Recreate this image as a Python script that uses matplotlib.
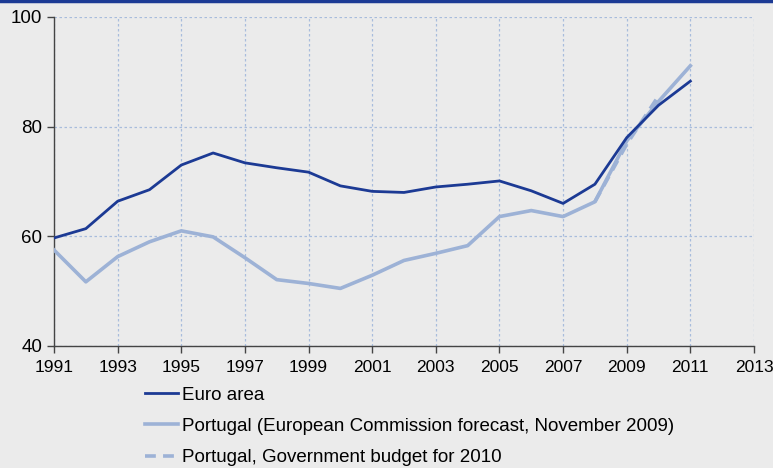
import matplotlib.pyplot as plt
from matplotlib.lines import Line2D
from matplotlib import font_manager

plt.rcParams["font.family"] = ["Liberation Sans", "DejaVu Sans"]

years = list(range(1991, 2012))
euro_area = [59.7, 61.4, 66.4, 68.5, 73.0, 75.2, 73.4, 72.5, 71.7, 69.2, 68.2,
             68.0, 69.0, 69.5, 70.1, 68.3, 66.0, 69.5, 78.0, 83.9, 88.3]
portugal_ec = [57.5, 51.7, 56.3, 59.0, 61.0, 59.9, 56.1, 52.1, 51.4, 50.5, 52.9,
               55.6, 56.9, 58.3, 63.6, 64.7, 63.6, 66.3, 77.4, 84.6, 91.1]
budget_years = [2008, 2009, 2010]
portugal_budget = [66.3, 76.8, 85.6]

xticks = list(range(1991, 2014, 2))
yticks = [40, 60, 80, 100]

DARK = "#1c3a94"
LIGHT = "#9db2d6"
GRID = "#a8bcdc"
BG = "#ebebeb"

installed = {f.name for f in font_manager.fontManager.ttflist}
narrow = "Liberation Sans Narrow" if "Liberation Sans Narrow" in installed else "Liberation Sans"
print("x tick font:", narrow)

fig = plt.figure(figsize=(7.73, 4.68), dpi=100, facecolor=BG)
ax = fig.add_axes([0.0699, 0.2607, 0.9055, 0.703])
ax.set_facecolor(BG)

ax.plot(years, euro_area, color=DARK, lw=2.0, label="Euro area", zorder=4)
ax.plot(years, portugal_ec, color=LIGHT, lw=2.6,
        label="Portugal (European Commission forecast, November 2009)", zorder=3)
ax.plot(budget_years, portugal_budget, color=LIGHT, lw=2.6, ls=(0, (3, 2)),
        label="Portugal, Government budget for 2010", zorder=3)

ax.set_xlim(1991, 2013)
ax.set_ylim(40, 100)
ax.set_xticks(xticks)
ax.set_yticks(yticks)
ax.grid(True, color=GRID, ls=(0, (2, 2)), lw=0.9)
ax.set_axisbelow(True)

for side in ["top", "right"]:
    ax.spines[side].set_visible(False)
for side in ["left", "bottom"]:
    ax.spines[side].set_color("#444444")
    ax.spines[side].set_linewidth(1.0)
ax.tick_params(direction="out", length=5, width=1, color="#444444",
               labelsize=13.5, pad=3.5)
ax.tick_params(axis="x", pad=5)
for lbl in ax.get_xticklabels():
    lbl.set_fontfamily(narrow)
    lbl.set_fontsize(14 if narrow != "Liberation Sans" else 12.5)

leg = fig.legend(loc="upper left", bbox_to_anchor=(0.178, 0.19), frameon=False,
                 fontsize=13.5, handlelength=1.75, handletextpad=0.2,
                 labelspacing=0.75, borderaxespad=0)

# thin dark-blue strip along the top edge
fig.add_artist(Line2D([0, 1], [0.998, 0.998], color=DARK, lw=2.5,
                      transform=fig.transFigure))

fig.savefig("out.png", dpi=100, facecolor=BG)
